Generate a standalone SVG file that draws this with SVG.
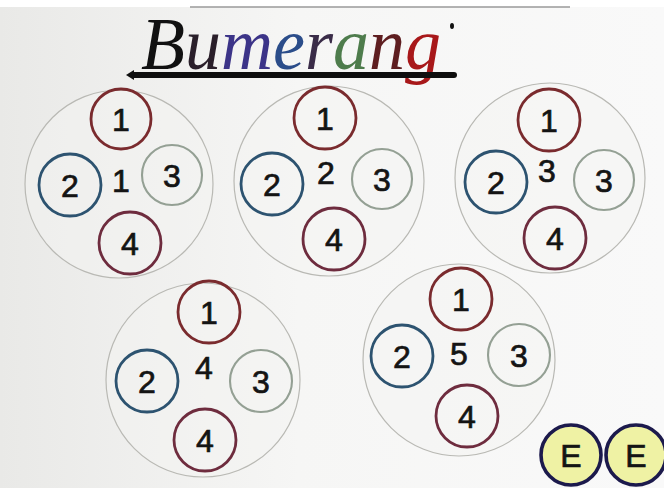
<svg xmlns="http://www.w3.org/2000/svg" width="664" height="488" viewBox="0 0 664 488">
<defs>
<linearGradient id="paper" x1="0" y1="0" x2="1" y2="0">
<stop offset="0" stop-color="#e9e9e7"/>
<stop offset="0.45" stop-color="#f6f6f5"/>
<stop offset="1" stop-color="#f9f9f9"/>
</linearGradient>
<style>
.big{fill:#f4f4f2;fill-opacity:0.5;stroke:#b9b9b4;stroke-width:1.2}
.s{fill:none;stroke-width:2.8}
.c1{stroke:#7a2b2e}
.c2{stroke:#2d5370}
.c3{stroke:#94a094;stroke-width:2.1}
.c4{stroke:#6e2c3e}
.n{font-family:"Liberation Sans","DejaVu Sans",sans-serif;font-size:32px;fill:#141414;stroke:#141414;stroke-width:0.7;text-anchor:middle;dominant-baseline:central}
.e{fill:#eff2a4;stroke:#1c1a4c;stroke-width:3.6}
</style>
</defs>
<rect width="664" height="488" fill="url(#paper)"/>
<rect width="664" height="7" fill="#ffffff"/>
<line x1="190" y1="7" x2="570" y2="7" stroke="#9a9a9a" stroke-width="1.5"/>

<g id="title">
<text x="141" y="69" font-family="'Liberation Serif','DejaVu Serif',serif" font-style="italic" font-size="74" textLength="300" lengthAdjust="spacingAndGlyphs"><tspan fill="#111111">B</tspan><tspan fill="#2a1f2a">u</tspan><tspan fill="#3c3488">m</tspan><tspan fill="#2b4d8a">e</tspan><tspan fill="#3a2c48">r</tspan><tspan fill="#4e7c4c">a</tspan><tspan fill="#5e1e20">n</tspan><tspan fill="#a8181a">g</tspan></text>
<rect x="130" y="72" width="327" height="6" rx="3" fill="#0e0e0e"/>
<path d="M126 75 L134 70 L134 80 Z" fill="#0e0e0e"/>
<ellipse cx="452" cy="26" rx="2" ry="3" fill="#111"/>
</g>

<g id="wheel1">
<circle class="big" cx="119" cy="184" r="94"/>
<circle class="s c1" cx="121" cy="119" r="30"/>
<circle class="s c2" cx="70" cy="185" r="31"/>
<circle class="s c3" cx="172" cy="175" r="30"/>
<circle class="s c4" cx="130" cy="243" r="31"/>
<text class="n" x="121" y="120">1</text>
<text class="n" x="70" y="186">2</text>
<text class="n" x="172" y="176">3</text>
<text class="n" x="130" y="244">4</text>
<text class="n" x="121" y="181">1</text>
</g>

<g id="wheel2">
<circle class="big" cx="329" cy="181" r="95"/>
<circle class="s c1" cx="325" cy="118" r="31"/>
<circle class="s c2" cx="272" cy="184" r="31"/>
<circle class="s c3" cx="382" cy="179" r="30"/>
<circle class="s c4" cx="334" cy="239" r="31"/>
<text class="n" x="325" y="119">1</text>
<text class="n" x="272" y="185">2</text>
<text class="n" x="382" y="180">3</text>
<text class="n" x="334" y="240">4</text>
<text class="n" x="326" y="173">2</text>
</g>

<g id="wheel3">
<circle class="big" cx="550" cy="178" r="95"/>
<circle class="s c1" cx="549" cy="120" r="31"/>
<circle class="s c2" cx="496" cy="182" r="31"/>
<circle class="s c3" cx="604" cy="180" r="30"/>
<circle class="s c4" cx="555" cy="238" r="31"/>
<text class="n" x="549" y="121">1</text>
<text class="n" x="496" y="183">2</text>
<text class="n" x="604" y="181">3</text>
<text class="n" x="555" y="239">4</text>
<text class="n" x="547" y="171">3</text>
</g>

<g id="wheel4">
<circle class="big" cx="203" cy="380" r="97"/>
<circle class="s c1" cx="209" cy="312" r="31"/>
<circle class="s c2" cx="147" cy="381" r="31"/>
<circle class="s c3" cx="261" cy="381" r="31"/>
<circle class="s c4" cx="205" cy="440" r="31"/>
<text class="n" x="209" y="313">1</text>
<text class="n" x="147" y="382">2</text>
<text class="n" x="261" y="382">3</text>
<text class="n" x="205" y="441">4</text>
<text class="n" x="204" y="368">4</text>
</g>

<g id="wheel5">
<circle class="big" cx="459" cy="360" r="96"/>
<circle class="s c1" cx="461" cy="299" r="31"/>
<circle class="s c2" cx="402" cy="356" r="31"/>
<circle class="s c3" cx="519" cy="355" r="31"/>
<circle class="s c4" cx="467" cy="416" r="31"/>
<text class="n" x="461" y="300">1</text>
<text class="n" x="402" y="357">2</text>
<text class="n" x="519" y="356">3</text>
<text class="n" x="467" y="417">4</text>
<text class="n" x="459" y="354">5</text>
</g>

<g id="e1">
<circle class="e" cx="571" cy="455" r="30"/>
<text class="n" x="571" y="456">E</text>
</g>
<g id="e2">
<circle class="e" cx="636" cy="455" r="30"/>
<text class="n" x="636" y="456">E</text>
</g>

<g id="connectors"></g>
</svg>
